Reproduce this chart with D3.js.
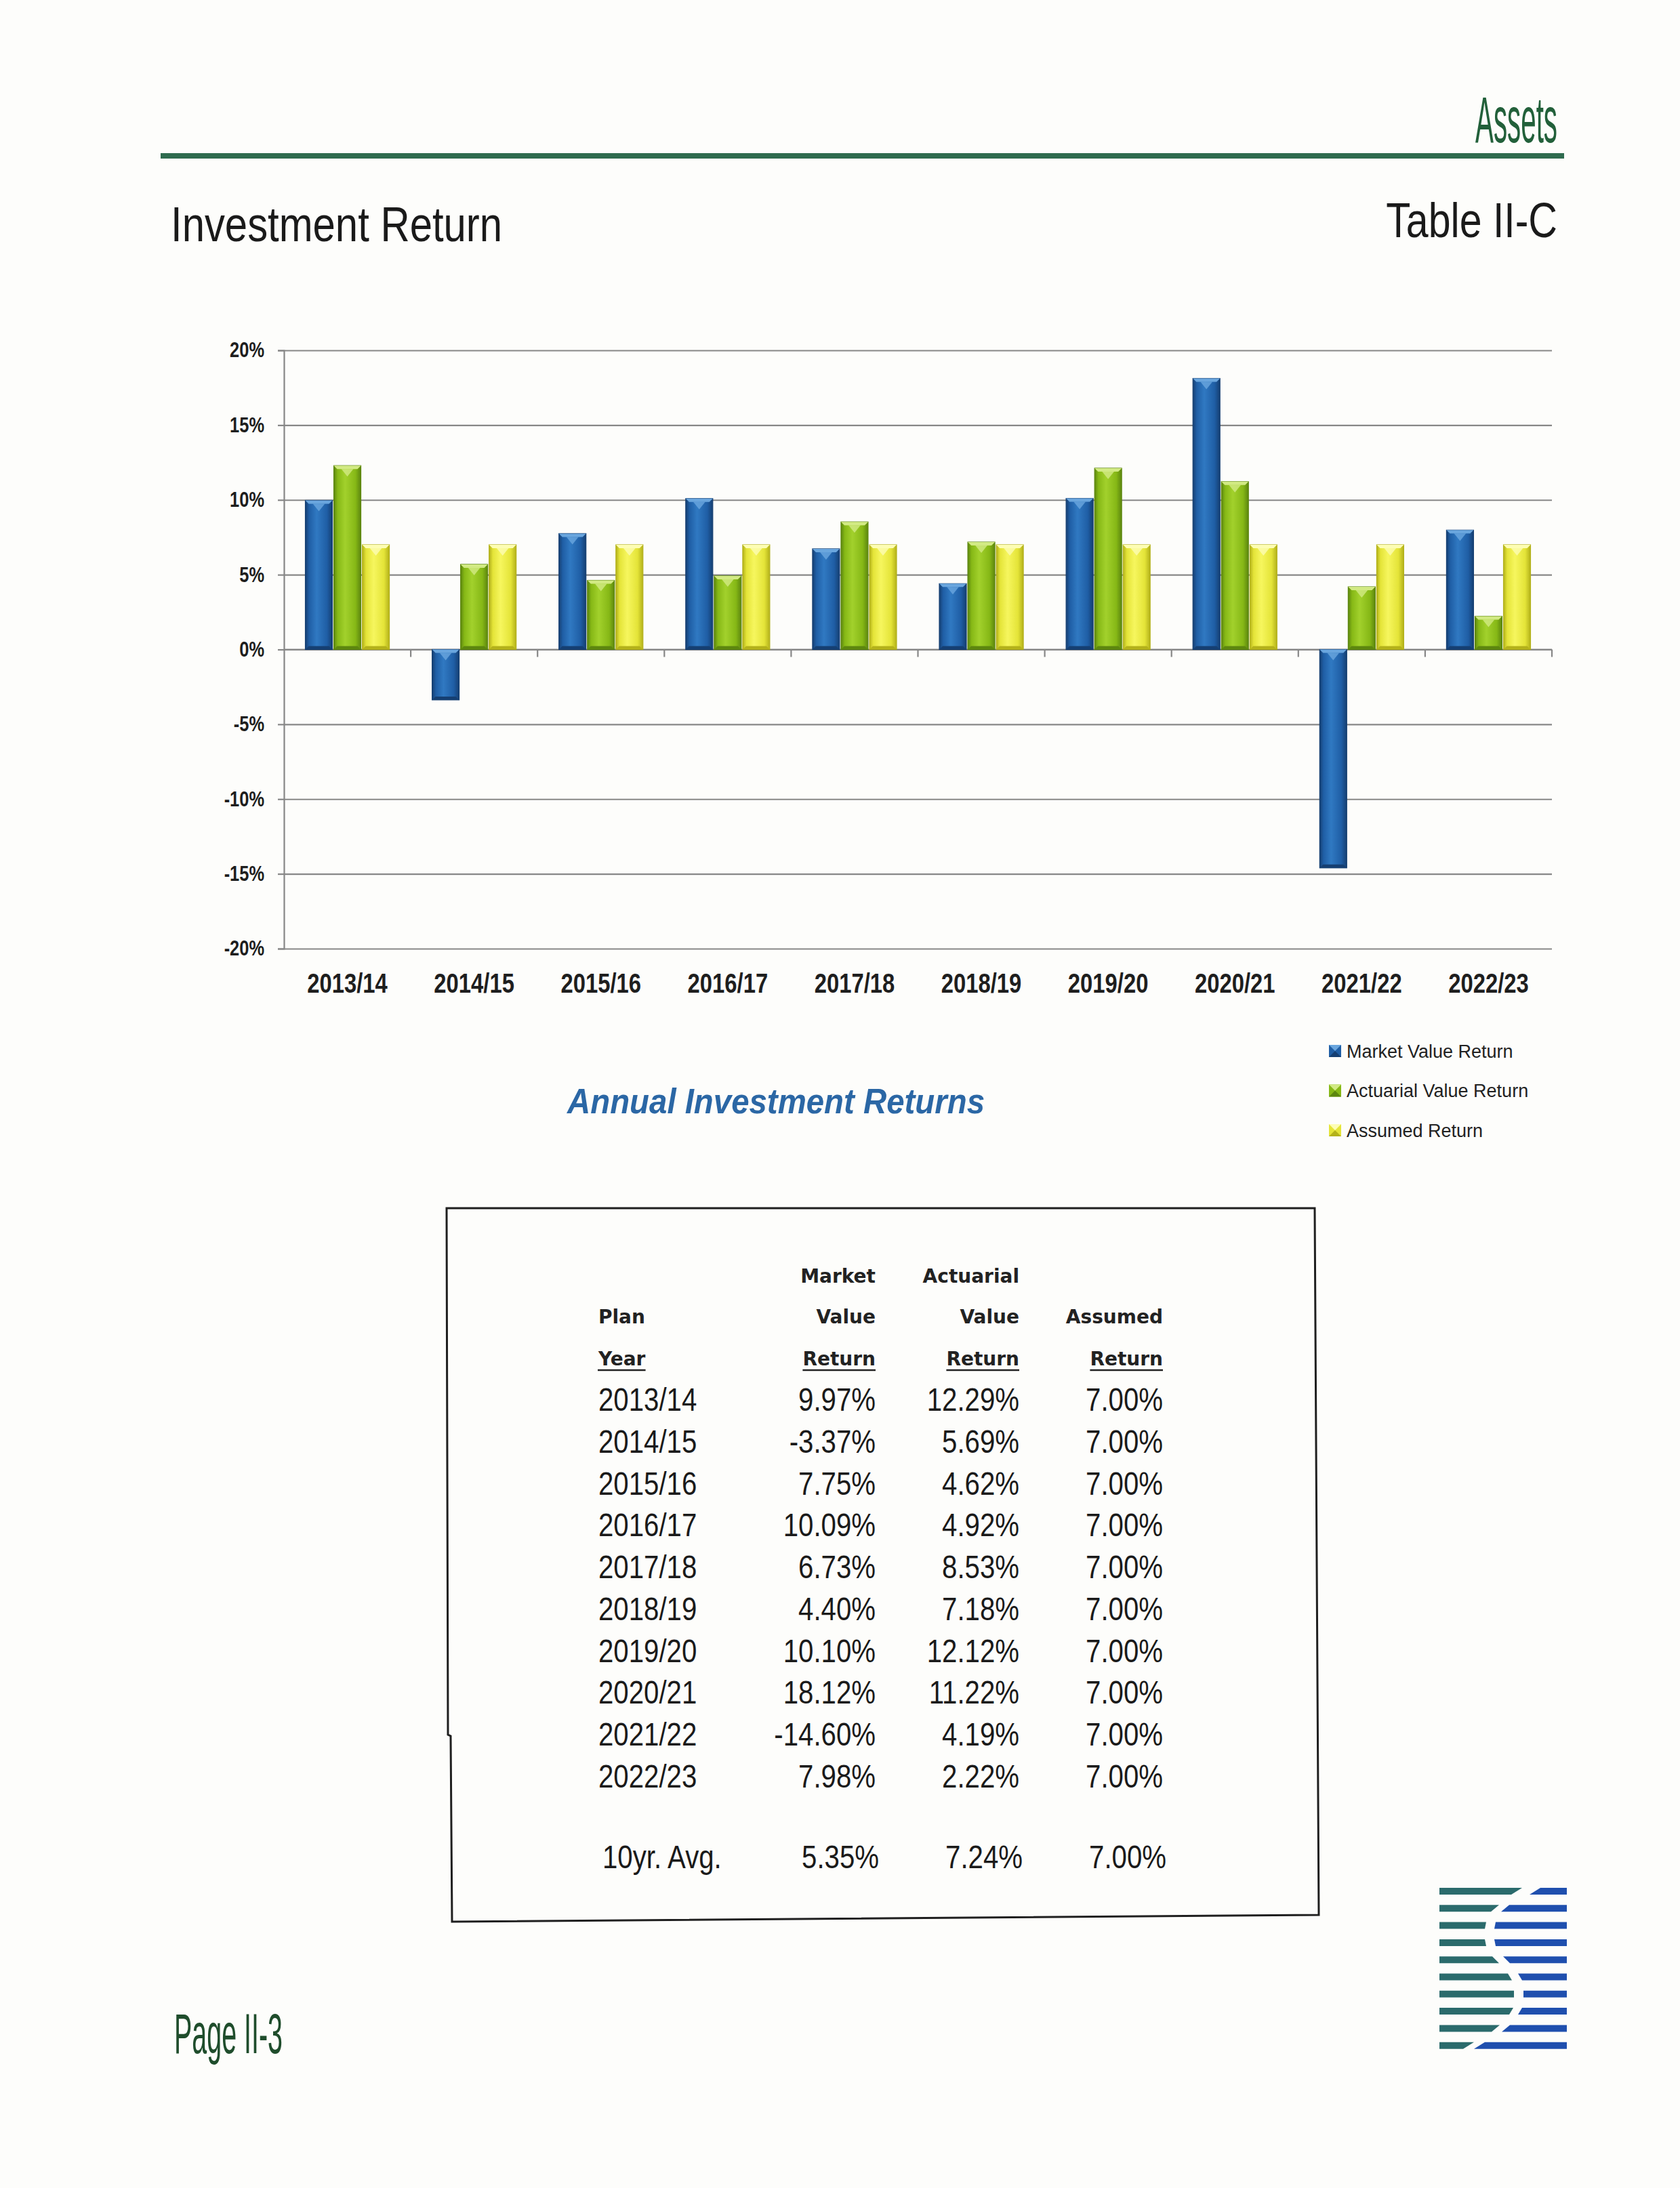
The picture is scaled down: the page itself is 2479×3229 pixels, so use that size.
<!DOCTYPE html>
<html>
<head>
<meta charset="utf-8">
<script src="https://cdn.jsdelivr.net/npm/d3@7"></script>
<style>
  html, body { margin: 0; background: #fdfdfb; }
</style>
</head>
<body>
<div id="page"></div>
<script>
const planYears = ['2013/14', '2014/15', '2015/16', '2016/17', '2017/18', '2018/19', '2019/20', '2020/21', '2021/22', '2022/23'];
const marketReturns = [9.97, -3.37, 7.75, 10.09, 6.73, 4.40, 10.10, 18.12, -14.60, 7.98];
const actuarialReturns = [12.29, 5.69, 4.62, 4.92, 8.53, 7.18, 12.12, 11.22, 4.19, 2.22];
const assumedReturns = [7.00, 7.00, 7.00, 7.00, 7.00, 7.00, 7.00, 7.00, 7.00, 7.00];
const seriesNames = ['Market Value Return', 'Actuarial Value Return', 'Assumed Return'];
const percentTicks = [-20, -15, -10, -5, 0, 5, 10, 15, 20];
const headerRows = [['', 'Market', 'Actuarial', ''], ['Plan', 'Value', 'Value', 'Assumed'], ['Year', 'Return', 'Return', 'Return']];
const averageLabel = '10yr. Avg.';
const tenYearAverages = [5.35, 7.24, 7.00];

// no Arial Narrow here, so squeeze Liberation Sans instead
const NARROW = "'Liberation Sans', Arial, sans-serif";
const ARIAL = "'Liberation Sans', Arial, sans-serif";
const shades = [
  { edge: '#153f72', base: '#1f5ea5', glow: '#3079c2', light: '#6aa6de' },
  { edge: '#5c860e', base: '#86b816', glow: '#a2d12c', light: '#d2ea84' },
  { edge: '#b3b11a', base: '#e4e438', glow: '#f6f65e', light: '#fdfdb4' }];

const pct = v => v.toFixed(2) + '%';

function narrow(selection, factor = 0.82) {
  selection.each(function () {
    const len = this.getComputedTextLength();
    d3.select(this).attr('textLength', len * factor).attr('lengthAdjust', 'spacingAndGlyphs');
  });
  return selection;
}

class ReturnsChart {
  constructor(svg) {
    this.svg = svg;
    this.left = 419;
    this.right = 2290;
    this.x = d3.scaleBand().domain(planYears).range([this.left, this.right]);
    this.xs = d3.scaleBand().domain(seriesNames).range([0, this.x.bandwidth()]).
    paddingInner(0.05).paddingOuter(0.75);
    this.y = d3.scaleLinear().domain([-20, 20]).range([1400, 517]);
    this.series = seriesNames.map((name, i) => ({ name, i, values: [marketReturns, actuarialReturns, assumedReturns][i] }));

    this.defineGradients();
    this.drawGrid();
    this.drawCategoryAxis();
    this.drawBars();
    this.drawLegend();
  }

  defineGradients() {
    const defs = this.svg.append('defs');
    const grad = defs.selectAll('linearGradient').data(shades).join('linearGradient').
    attr('id', (d, i) => `barShade${i}`).
    attr('x1', 0).attr('x2', 1).attr('y1', 0).attr('y2', 0);
    grad.append('stop').attr('offset', '0%').attr('stop-color', d => d.edge);
    grad.append('stop').attr('offset', '14%').attr('stop-color', d => d.base);
    grad.append('stop').attr('offset', '42%').attr('stop-color', d => d.glow);
    grad.append('stop').attr('offset', '80%').attr('stop-color', d => d.base);
    grad.append('stop').attr('offset', '100%').attr('stop-color', d => d.edge);
  }

  drawGrid() {
    const grid = this.svg.append('g').attr('transform', `translate(${this.left},0)`).
    call(d3.axisLeft(this.y).tickValues(percentTicks).tickSize(-(this.right - this.left)).tickFormat(''));
    grid.select('.domain').remove();
    grid.selectAll('line').attr('stroke', '#878787').attr('stroke-width', 2.2);

    const axis = this.svg.append('g').attr('transform', `translate(${this.left},0)`).
    call(d3.axisLeft(this.y).tickValues(percentTicks).tickSize(9).tickPadding(20).tickFormat(d => d + '%'));
    axis.select('.domain').attr('stroke', '#878787').attr('stroke-width', 2.2);
    axis.selectAll('line').attr('stroke', '#878787').attr('stroke-width', 2.2);
    narrow(axis.selectAll('text').
    attr('font-family', NARROW).attr('font-weight', 'bold').attr('font-size', 31).attr('fill', '#1e1e1e'));
  }

  drawCategoryAxis() {
    const y0 = this.y(0);
    const g = this.svg.append('g');
    g.append('line').attr('x1', this.left).attr('x2', this.right).attr('y1', y0).attr('y2', y0).
    attr('stroke', '#878787').attr('stroke-width', 2.2);

    const edges = planYears.slice(1).map(d => this.x(d)).concat([this.right]);
    g.selectAll('.edge').data(edges).join('line').attr('class', 'edge').
    attr('x1', d => d).attr('x2', d => d).attr('y1', y0).attr('y2', y0 + 11).
    attr('stroke', '#878787').attr('stroke-width', 2.2);

    narrow(this.svg.append('g').selectAll('text').data(planYears).join('text').
    attr('x', d => this.x(d) + this.x.bandwidth() / 2).
    attr('y', 1465).
    attr('text-anchor', 'middle').
    attr('font-family', NARROW).attr('font-weight', 'bold').attr('font-size', 40).attr('fill', '#1e1e1e').
    text(d => d));
  }

  drawBars() {
    const w = this.xs.bandwidth();
    const b = 5;
    const records = planYears.flatMap((year, k) => this.series.map(s => ({ year, name: s.name, i: s.i, value: s.values[k] })));
    const height = d => Math.abs(this.y(d.value) - this.y(0));

    const bar = this.svg.append('g').selectAll('g').data(records).join('g').
    attr('transform', d => `translate(${this.x(d.year) + this.xs(d.name)},${this.y(Math.max(d.value, 0))})`);

    bar.append('rect').
    attr('width', w).
    attr('height', height).
    attr('fill', d => `url(#barShade${d.i})`).
    attr('stroke', d => shades[d.i].edge).attr('stroke-width', 1.2);

    bar.append('path').
    attr('d', `M0,0H${w}L${w - b},${b}H${b}Z`).
    attr('fill', d => shades[d.i].light);

    bar.append('path').
    attr('d', d => `M0,${height(d)}H${w}L${w - b},${height(d) - b}H${b}Z`).
    attr('fill', d => shades[d.i].edge);

    bar.append('path').
    attr('d', `M${w * 0.28},${b}H${w * 0.72}L${w / 2},${b + 11}Z`).
    attr('fill', d => shades[d.i].light).attr('opacity', 0.8);
  }

  drawLegend() {
    const item = this.svg.append('g').selectAll('g').data(this.series).join('g').
    attr('transform', (d, i) => `translate(1961,${1542 + i * 58.5})`);

    item.append('rect').attr('width', 18).attr('height', 18).attr('fill', d => shades[d.i].base);
    item.append('path').attr('d', 'M0,0H18L9,9Z').attr('fill', d => shades[d.i].light);
    item.append('path').attr('d', 'M0,18H18L9,9Z').attr('fill', d => shades[d.i].edge);

    item.append('text').
    attr('x', 26).attr('y', 18.5).
    attr('font-family', ARIAL).attr('font-size', 27).attr('fill', '#222').
    text(d => d.name);
  }}


class ReturnsTable {
  constructor(svg) {
    this.svg = svg;
    this.yearX = 883;
    this.colRight = [1292, 1504, 1716];
    this.rowY = d3.scaleLinear().domain([0, planYears.length - 1]).range([2082, 2638]);

    this.drawBox();
    this.drawHeader();
    this.drawRows();
  }

  drawBox() {
    this.svg.append('path').
    attr('d', 'M659,1783H1940L1946,2826L667,2836L665,2562L661,2560Z').
    attr('fill', 'none').attr('stroke', '#1f1f1f').attr('stroke-width', 3);
  }

  drawHeader() {
    const headY = [1893, 1953, 2015];
    const g = this.svg.append('g').
    attr('font-family', "'DejaVu Sans', sans-serif").attr('font-weight', 'bold').attr('font-size', 28).attr('fill', '#222');

    headerRows.forEach((row, r) => {
      row.forEach((label, c) => {
        if (!label) return;
        const t = g.append('text').attr('y', headY[r]).text(label);
        if (c === 0) t.attr('x', this.yearX);else
        t.attr('x', this.colRight[c - 1]).attr('text-anchor', 'end');
        if (r === 2) {
          const box = t.node().getBBox();
          g.append('line').
          attr('x1', box.x).attr('x2', box.x + box.width).
          attr('y1', headY[r] + 7).attr('y2', headY[r] + 7).
          attr('stroke', '#222').attr('stroke-width', 2.5);
        }
      });
    });
  }

  drawRows() {
    const g = this.svg.append('g').
    attr('font-family', NARROW).attr('font-size', 49).attr('fill', '#1a1a1a');
    const columns = [marketReturns, actuarialReturns, assumedReturns];

    const row = g.selectAll('g').data(planYears).join('g').
    attr('transform', (d, k) => `translate(0,${this.rowY(k)})`);
    narrow(row.append('text').attr('x', this.yearX).text(d => d));
    columns.forEach((values, c) => {
      narrow(row.append('text').
      attr('x', this.colRight[c]).attr('text-anchor', 'end').
      text((d, k) => pct(values[k])));
    });

    const avg = g.append('g').attr('transform', 'translate(0,2757)');
    narrow(avg.append('text').attr('x', this.yearX + 6).text(averageLabel));
    narrow(avg.selectAll('.avg').data(tenYearAverages).join('text').attr('class', 'avg').
    attr('x', (d, c) => this.colRight[c] + 5).attr('text-anchor', 'end').
    text(d => pct(d)));
  }}


function drawPageFrame(svg) {
  svg.append('text').
  attr('x', 2298).attr('y', 210).attr('text-anchor', 'end').
  attr('font-family', NARROW).attr('font-size', 96).attr('fill', '#22603a').
  attr('textLength', 121).attr('lengthAdjust', 'spacingAndGlyphs').
  text('Assets');

  svg.append('rect').attr('x', 237).attr('y', 226).attr('width', 2071).attr('height', 8).attr('fill', '#2f6b4f');

  narrow(svg.append('text').
  attr('x', 252).attr('y', 356).
  attr('font-family', NARROW).attr('font-size', 73).attr('fill', '#1a1a1a').
  text('Investment Return'));

  narrow(svg.append('text').
  attr('x', 2298).attr('y', 350).attr('text-anchor', 'end').
  attr('font-family', NARROW).attr('font-size', 72).attr('fill', '#1a1a1a').
  text('Table II-C'));

  svg.append('text').
  attr('x', 837).attr('y', 1643).
  attr('font-family', ARIAL).attr('font-weight', 'bold').attr('font-style', 'italic').
  attr('font-size', 52).attr('fill', '#2b67a5').
  attr('textLength', 616).attr('lengthAdjust', 'spacingAndGlyphs').
  text('Annual Investment Returns');

  svg.append('text').
  attr('x', 257).attr('y', 3030).
  attr('font-family', NARROW).attr('font-size', 84).attr('fill', '#1f4d2c').
  attr('textLength', 160).attr('lengthAdjust', 'spacingAndGlyphs').
  text('Page II-3');
}

function drawLogo(svg) {
  // stripe: [teal end, blue start, slant]
  const stripes = [[2238, 2265, 8], [2206, 2221, 6], [2192, 2206, 1], [2192, 2206, -1], [2207, 2223, -5],
  [2228, 2243, -3], [2234, 2248, 0], [2230, 2243, 3], [2207, 2222, 6], [2167, 2183, 8]];
  const h = 10;
  const g = svg.append('g');
  stripes.forEach(([tealEnd, blueStart, s], i) => {
    const top = 2786 + i * 25.3;
    g.append('path').
    attr('d', `M2124,${top}H${tealEnd + s}L${tealEnd - s},${top + h}H2124Z`).
    attr('fill', '#2b6b6c');
    g.append('path').
    attr('d', `M${blueStart + s},${top}H2312V${top + h}H${blueStart - s}Z`).
    attr('fill', '#1f4fae');
  });
}

const svg = d3.select('#page').append('svg').attr('width', 2479).attr('height', 3229);
drawPageFrame(svg);
new ReturnsChart(svg);
new ReturnsTable(svg);
drawLogo(svg);
</script>
</body>
</html>
